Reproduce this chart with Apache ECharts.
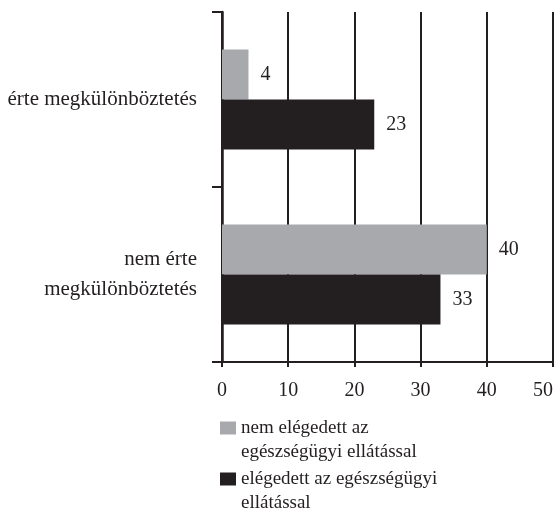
<!DOCTYPE html>
<html>
<head>
<meta charset="utf-8">
<script src="https://cdn.jsdelivr.net/npm/echarts@6/dist/echarts.min.js"></script>
<style>
  html, body { margin: 0; padding: 0; background: #fff; }
  #chart { width: 558px; height: 512px; }
</style>
</head>
<body>
<div id="chart"></div>
<script>
const categories = ["érte megkülönböztetés", "nem érte megkülönböztetés"];
const seriesNames = ["nem elégedett az egészségügyi ellátással", "elégedett az egészségügyi ellátással"];
const legendLines = ["nem elégedett az\negészségügyi ellátással", "elégedett az egészségügyi\nellátással"];
const notSatisfied = [4, 40];
const satisfied = [23, 33];
const xTicks = [0, 10, 20, 30, 40, 50];

const ink = "#231f20";
const font = "Liberation Serif";

const chart = echarts.init(document.getElementById("chart"));

// one legend per item so each icon sits next to the first text line
function legendFor(i, top) {
  return {
    orient: "vertical",
    left: 215,
    top: top,
    height: 120,
    itemWidth: 16,
    itemHeight: 13,
    icon: "rect",
    data: [seriesNames[i]],
    // blank first line keeps the icon level with the first real line
    formatter: () => " \n" + legendLines[i],
    textStyle: { color: ink, fontFamily: font, fontSize: 19, lineHeight: 24 }
  };
}

chart.setOption({
  animation: false,
  textStyle: { fontFamily: font, color: ink },
  grid: { left: 222, right: 5, top: 12, bottom: 150, outerBoundsMode: "none" },
  xAxis: {
    type: "value",
    min: xTicks[0],
    max: xTicks[xTicks.length - 1],
    interval: 10,
    axisLine: { show: true, lineStyle: { color: ink, width: 2 } },
    axisTick: { show: true, length: 5, lineStyle: { color: ink, width: 2 } },
    splitLine: { show: true, lineStyle: { color: ink, width: 2 } },
    axisLabel: { color: ink, fontFamily: font, fontSize: 20, margin: 19, alignMaxLabel: "right" }
  },
  yAxis: {
    type: "category",
    inverse: true,
    data: categories,
    axisLine: { show: true, lineStyle: { color: ink, width: 2.5 } },
    axisTick: { show: true, length: 10, lineStyle: { color: ink, width: 2 } },
    axisLabel: {
      color: ink,
      fontFamily: font,
      fontSize: 21,
      lineHeight: 30,
      margin: 25,
      padding: [8, 0, 0, 0],
      formatter: v => v === "nem érte megkülönböztetés" ? "nem érte\nmegkülönböztetés" : v
    }
  },
  legend: [legendFor(0, 387), legendFor(1, 438)],
  series: [
    {
      name: seriesNames[0],
      type: "bar",
      data: notSatisfied,
      barWidth: 50,
      barGap: "0%",
      itemStyle: { color: "#a7a9ac" },
      label: { show: true, position: "right", distance: 12, color: ink, fontFamily: font, fontSize: 20 }
    },
    {
      name: seriesNames[1],
      type: "bar",
      data: satisfied,
      barWidth: 50,
      barGap: "0%",
      itemStyle: { color: ink },
      label: { show: true, position: "right", distance: 12, color: ink, fontFamily: font, fontSize: 20 }
    }
  ]
});
</script>
</body>
</html>
